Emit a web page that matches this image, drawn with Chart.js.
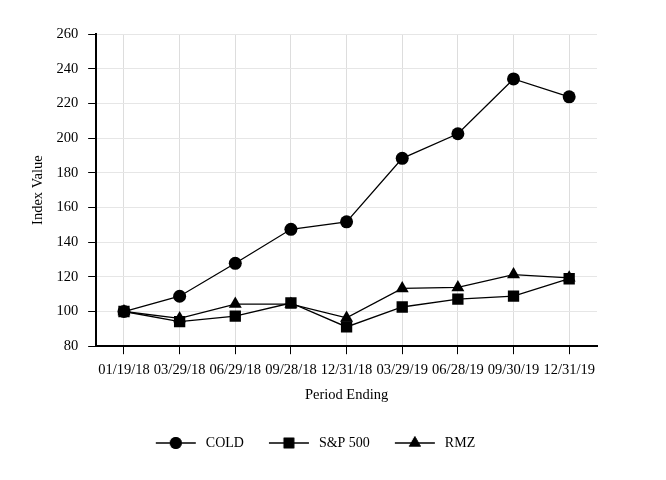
<!DOCTYPE html>
<html>
<head>
<meta charset="utf-8">
<script src="https://cdn.jsdelivr.net/npm/chart.js@4/dist/chart.umd.min.js"></script>
<style>
  html, body { margin: 0; padding: 0; background: #fff; }
  #wrap { width: 666px; height: 480px; }
</style>
</head>
<body>
<div id="wrap"><canvas id="myChart" width="666" height="480"></canvas></div>
<script>
// period labels along the bottom
const periods = ['01/19/18', '03/29/18', '06/29/18', '09/28/18', '12/31/18', '03/29/19', '06/28/19', '09/30/19', '12/31/19'];
// values
const coldValues = [100, 108.8, 127.8, 147.4, 151.7, 188.3, 202.5, 234.1, 223.8];
const spValues = [100, 94.2, 97.3, 104.9, 91.1, 102.6, 107.1, 108.9, 118.9];
const rmzValues = [100, 96.0, 104.3, 104.3, 96.3, 113.3, 113.9, 121.3, 119.4];
const seriesNames = ['COLD', 'S&P 500', 'RMZ'];
const seriesMarkers = ['circle', 'rect', 'triangle'];
const markerSizes = [6.5, 8, 7.5];
// S&P squares sit on top, then RMZ, then COLD (lower = drawn later)
const drawOrder = [2, 0, 1];

const fontFamily = '"Liberation Serif", "Times New Roman", serif';
const fontSize = 14.5;

// little canvas with a line and the marker in the middle, used as legend symbol
// (a bit wider than the line so the text sits ~10px away)
function legendSymbol(style, r) {
  const c = document.createElement('canvas');
  c.width = 44; c.height = 18;
  const ctx = c.getContext('2d');
  ctx.strokeStyle = '#000';
  ctx.lineWidth = 1.5;
  ctx.beginPath();
  ctx.moveTo(1, 9); ctx.lineTo(41, 9);
  ctx.stroke();
  ctx.fillStyle = '#000';
  Chart.helpers.drawPoint(ctx, {pointStyle: style, radius: r, rotation: 0, borderWidth: 0}, 21, 9);
  ctx.fill();
  return c;
}

// legend in the original is a little right of the canvas middle
const legendNudge = {
  id: 'legendNudge',
  afterLayout(chart) {
    chart.legend.left += 4;
    chart.legend.right += 4;
  }
};

const datasets = [coldValues, spValues, rmzValues].map((vals, i) => ({
  label: seriesNames[i],
  data: vals,
  order: drawOrder[i],
  borderColor: '#000',
  backgroundColor: '#000',
  borderWidth: 1.3,
  pointStyle: seriesMarkers[i],
  pointRadius: markerSizes[i],
  pointHoverRadius: markerSizes[i],
  pointBorderWidth: 0,
  tension: 0
}));

const el = document.getElementById('myChart');
new Chart(el, {
  type: 'line',
  data: { labels: periods, datasets: datasets },
  plugins: [legendNudge],
  options: {
    responsive: false,
    animation: false,
    layout: { padding: { top: 34, left: 25, right: 69, bottom: 20 } },
    plugins: {
      tooltip: { enabled: false },
      legend: {
        position: 'bottom',
        labels: {
          color: '#000',
          font: { family: fontFamily, size: 14 },
          usePointStyle: true,
          pointStyleWidth: 44,
          padding: 24,
          // the legend is sorted by dataset order otherwise; keep COLD, S&P 500, RMZ
          sort: (a, b) => a.datasetIndex - b.datasetIndex,
          generateLabels: (chart) => chart.data.datasets.map((ds, i) => ({
            text: ds.label,
            pointStyle: legendSymbol(seriesMarkers[i], markerSizes[i] - 0.5),
            fillStyle: '#000',
            strokeStyle: '#000',
            lineWidth: 0,
            datasetIndex: i,
            fontColor: '#000'
          }))
        }
      }
    },
    scales: {
      x: {
        offset: true,
        grid: { offset: false, color: '#dddddd', tickColor: '#000', tickLength: 8, drawTicks: true },
        border: { color: '#000', width: 2 },
        ticks: { color: '#000', font: { family: fontFamily, size: fontSize }, maxRotation: 0, padding: 7 },
        title: { display: true, text: 'Period Ending', color: '#000', font: { family: fontFamily, size: fontSize }, padding: { top: 1, bottom: 8 } }
      },
      y: {
        min: 80,
        max: 260,
        grid: { color: '#e6e6e6', tickColor: '#000', tickLength: 8 },
        border: { color: '#000', width: 2 },
        ticks: { stepSize: 20, color: '#000', font: { family: fontFamily, size: fontSize }, padding: 10 },
        title: { display: true, text: 'Index Value', color: '#000', font: { family: fontFamily, size: fontSize }, padding: { bottom: 0 } }
      }
    }
  }
});
</script>
</body>
</html>
